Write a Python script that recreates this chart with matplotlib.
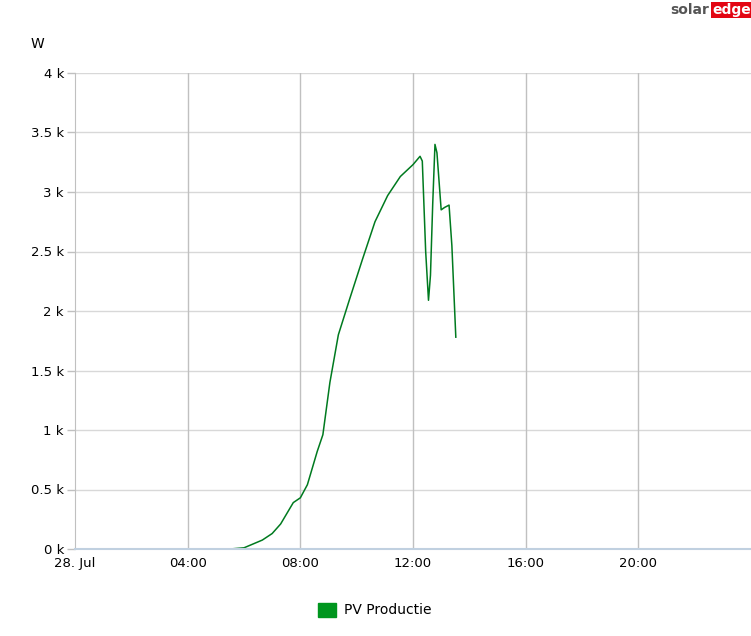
#!/usr/bin/env python3
"""PV production for one day, solaredge style."""

import matplotlib
matplotlib.use('Agg')
from matplotlib import pyplot as plt

# hours since midnight and power in W
hours = [
    5.5, 6.0, 6.3, 6.65, 7.0, 7.3, 7.55, 7.75, 8.0, 8.25, 8.45,
    8.6, 8.8, 9.05, 9.35, 9.75, 10.2, 10.65, 11.1, 11.55, 12.0,
    12.25, 12.33, 12.45, 12.55, 12.62, 12.7, 12.78, 12.85, 13.0,
    13.12, 13.28, 13.38, 13.52,
]
power = [
    0, 10, 40, 75, 130, 210, 310, 390, 430, 540, 700,
    820, 960, 1400, 1800, 2100, 2430, 2750, 2970, 3130, 3230,
    3300, 3260, 2500, 2090, 2300, 2900, 3400, 3330, 2850,
    2870, 2890, 2550, 1780,
]
x_ticks = [0, 4, 8, 12, 16, 20]
x_labels = ['28. Jul', '04:00', '08:00', '12:00', '16:00', '20:00']
y_ticks = [0, 500, 1000, 1500, 2000, 2500, 3000, 3500, 4000]
y_labels = ['0 k', '0.5 k', '1 k', '1.5 k', '2 k', '2.5 k', '3 k',
            '3.5 k', '4 k']

plt.rcParams['font.family'] = ['DejaVu Sans']

figure = plt.figure(figsize=(7.51, 6.36), dpi=100)
axle = figure.add_axes([75 / 751, 1 - 549 / 636, 676 / 751, 476 / 636])

axle.plot(hours, power, color='#007a1f', linewidth=1.1)

axle.set_xlim(0, 24)
axle.set_ylim(0, 4000)
axle.set_xticks(x_ticks)
axle.set_xticklabels(x_labels, fontsize=9.5)
axle.set_yticks(y_ticks)
axle.set_yticklabels(y_labels, fontsize=9.5)
axle.tick_params(axis='x', length=0, pad=6)
axle.tick_params(axis='y', length=6, width=1, color='#c0c0c0', pad=2)

for y in y_ticks[1:]:
    axle.axhline(y, color='#d8d8d8', linewidth=1, zorder=0)
for x in x_ticks[1:]:
    axle.axvline(x, color='#c0c0c0', linewidth=1, zorder=0)

for side in ('top', 'right'):
    axle.spines[side].set_visible(False)
axle.spines['left'].set_color('#c0c0c0')
axle.spines['bottom'].set_color('#c0d0e0')
axle.spines['bottom'].set_linewidth(1.5)

figure.text(37 / 751, 1 - 44 / 636, 'W', fontsize=10, ha='center',
            va='center')

# legend
figure.patches.append(plt.Rectangle(
    (318 / 751, 1 - 617 / 636), 18 / 751, 14 / 636,
    transform=figure.transFigure, color='#00961e', figure=figure))
figure.text(344 / 751, 1 - 610 / 636, 'PV Productie', fontsize=10,
            va='center')

# logo
figure.text(709 / 751, 1 - 10 / 636, 'solar', fontsize=10,
            color='#555555', va='center', ha='right', weight='bold')
figure.text(712 / 751, 1 - 10 / 636, 'edge', fontsize=10,
            color='white', va='center', ha='left', weight='bold',
            bbox=dict(facecolor='#e30613', edgecolor='none', pad=1))

figure.savefig('out.png', dpi=100)
